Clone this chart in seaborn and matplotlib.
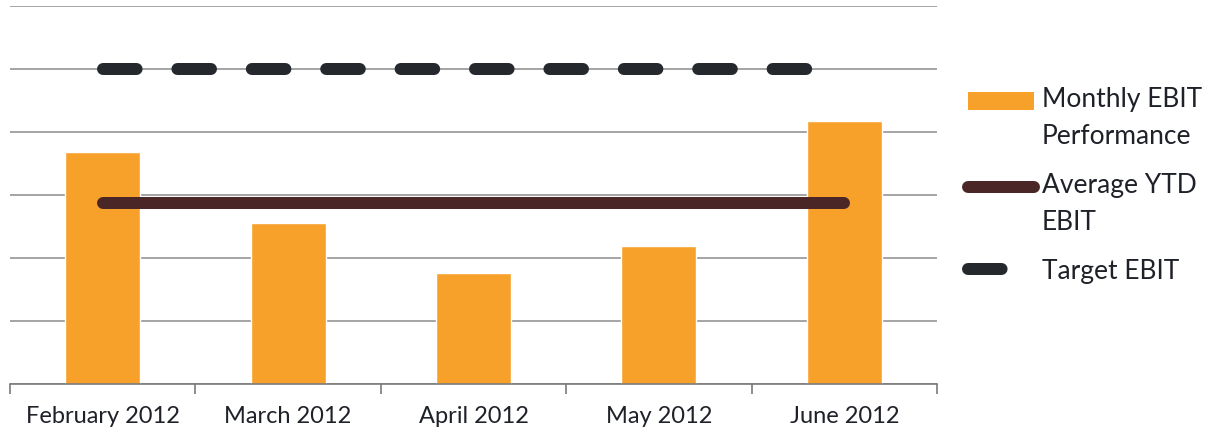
import matplotlib
matplotlib.use("Agg")
import matplotlib.pyplot as plt
import seaborn as sns
import pandas as pd
import numpy as np
from matplotlib.patches import Patch
from matplotlib.lines import Line2D
from matplotlib.legend_handler import HandlerPatch, HandlerLine2D
from matplotlib.transforms import Affine2D

months = ["February 2012", "March 2012", "April 2012", "May 2012", "June 2012"]
monthly_ebit = [3.68, 2.56, 1.76, 2.19, 4.17]
average_ytd = [2.87, 2.87, 2.87, 2.87, 2.87]
target_ebit = [5.0, 5.0, 5.0, 5.0, 5.0]
labels = ["Monthly EBIT\nPerformance", "Average YTD\nEBIT", "Target EBIT"]

bar_color = "#F7A12B"
avg_color = "#4A2626"
target_color = "#25292D"
text_color = "#1E2128"

sns.set_theme(style="white")
plt.rcParams["font.family"] = ["Lato", "DejaVu Sans"]

fig = plt.figure(figsize=(12.09, 4.34), dpi=100)
ax = fig.add_axes([10/1209, 50/434, 927/1209, 378/434])

df = pd.DataFrame({"month": months, "ebit": monthly_ebit})
sns.barplot(data=df, x="month", y="ebit", color=bar_color, saturation=1,
            width=0.405, ax=ax, zorder=2)

lw = 12 * 72 / 100
dash = (2.8, 3.4)
ax.plot(range(len(months)), average_ytd, color=avg_color, lw=lw,
        solid_capstyle="round", zorder=3)
ax.plot(range(len(months)), target_ebit, color=target_color, lw=lw,
        dashes=dash, dash_capstyle="round", zorder=3)

ax.set_xlim(-0.5, len(months) - 0.5)
ax.set_ylim(0, 6)
ax.set_yticks(np.arange(0, 7, 1))
ax.yaxis.grid(True, color="#8c8c8c", lw=1.1, zorder=0)
ax.set_axisbelow(True)
ax.set_yticklabels([])
ax.tick_params(axis="y", length=0)
ax.set_xlabel("")
ax.set_ylabel("")

ax.set_xticks(np.arange(-0.5, len(months), 1), minor=True)
ax.tick_params(axis="x", which="major", length=0, labelsize=17,
               labelcolor=text_color, pad=16)
ax.tick_params(axis="x", which="minor", length=7, width=1.2,
               color="#7a7a7a", direction="out", bottom=True)

for s in ["left", "right", "top"]:
    ax.spines[s].set_visible(False)
ax.spines["bottom"].set_color("#7a7a7a")
ax.spines["bottom"].set_linewidth(1.2)


class ShiftedPatch(HandlerPatch):
    def __init__(self, dy, **kw):
        super().__init__(**kw)
        self.dy = dy

    def create_artists(self, legend, orig_handle, xdescent, ydescent,
                       width, height, fontsize, trans):
        return super().create_artists(legend, orig_handle, xdescent, ydescent,
                                      width, height, fontsize,
                                      Affine2D().translate(0, self.dy) + trans)


class ShiftedLine(HandlerLine2D):
    def __init__(self, dy, **kw):
        super().__init__(**kw)
        self.dy = dy

    def create_artists(self, legend, orig_handle, xdescent, ydescent,
                       width, height, fontsize, trans):
        return super().create_artists(legend, orig_handle, xdescent, ydescent,
                                      width, height, fontsize,
                                      Affine2D().translate(0, self.dy) + trans)


fs = 19
shift = 12.6
h_bar = Patch(facecolor=bar_color, edgecolor="none")
h_avg = Line2D([0], [0], color=avg_color, lw=lw, solid_capstyle="round")
h_tgt = Line2D([0], [0], color=target_color, lw=lw, dashes=dash,
               dash_capstyle="round")
leg = fig.legend([h_bar, h_avg, h_tgt], labels, loc="upper left",
                 bbox_to_anchor=(968/1209, 1 - 87/434), frameon=False,
                 fontsize=fs, handlelength=2.5, handleheight=0.65,
                 handletextpad=0.3, labelspacing=0.9,
                 labelcolor=text_color, borderaxespad=0, borderpad=0,
                 handler_map={h_bar: ShiftedPatch(shift),
                              h_avg: ShiftedLine(shift),
                              h_tgt: ShiftedLine(0)})
for t in leg.get_texts():
    t.set_linespacing(1.6)

fig.savefig("out.png", dpi=100)
